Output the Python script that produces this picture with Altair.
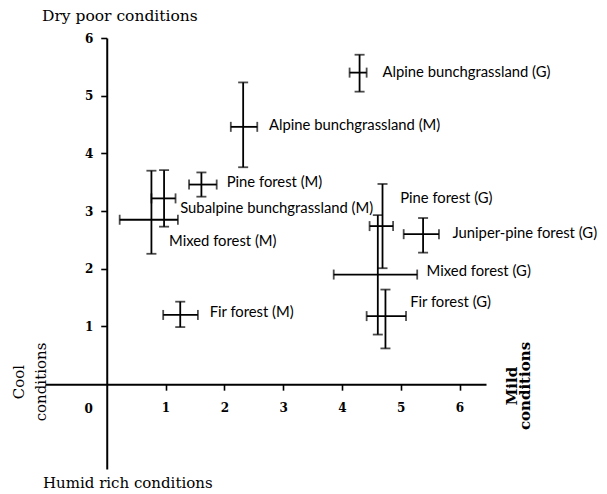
import altair as alt
import pandas as pd

# ---- data ----
names = [
    "Alpine bunchgrassland (G)",
    "Alpine bunchgrassland (M)",
    "Pine forest (M)",
    "Subalpine bunchgrassland (M)",
    "Mixed forest (M)",
    "Fir forest (M)",
    "Pine forest (G)",
    "Juniper-pine forest (G)",
    "Mixed forest (G)",
    "Fir forest (G)",
]
x_mean = [4.30, 2.32, 1.61, 0.975, 0.76, 1.25, 4.69, 5.38, 4.61, 4.74]
y_mean = [5.40, 4.46, 3.46, 3.22, 2.85, 1.20, 2.74, 2.60, 1.90, 1.18]
x_low = [4.13, 2.11, 1.40, 0.76, 0.22, 0.96, 4.47, 5.05, 3.86, 4.42]
x_high = [4.42, 2.56, 1.87, 1.17, 1.21, 1.55, 4.87, 5.65, 5.28, 5.09]
y_low = [5.07, 3.76, 3.25, 2.73, 2.26, 0.99, 2.01, 2.28, 0.86, 0.62]
y_high = [5.71, 5.23, 3.67, 3.71, 3.70, 1.43, 3.47, 2.88, 2.93, 1.64]
label_x = [4.69, 2.76, 2.04, 1.25, 1.06, 1.75, 4.99, 5.88, 5.44, 5.16]
label_y = [5.40, 4.47, 3.48, 3.03, 2.46, 1.24, 3.21, 2.60, 1.95, 1.41]
tick_values = [1, 2, 3, 4, 5, 6]

X_MIN, X_MAX = -1.05, 6.45
Y_MIN, Y_MAX = -1.47, 6.0
W, H = 441, 431

df = pd.DataFrame({
    "name": names, "x": x_mean, "y": y_mean,
    "xlo": x_low, "xhi": x_high, "ylo": y_low, "yhi": y_high,
    "lx": label_x, "ly": label_y,
})

xs = alt.Scale(domain=[X_MIN, X_MAX], nice=False, zero=False)
ys = alt.Scale(domain=[Y_MIN, Y_MAX], nice=False, zero=False)

# axes crossing at the origin (negative offsets pull them into the plot)
x_off = -(0 - Y_MIN) / (Y_MAX - Y_MIN) * H
y_off = -(0 - X_MIN) / (X_MAX - X_MIN) * W

NUM_FONT = "DejaVu Serif"
x_axis = alt.Axis(values=tick_values, offset=x_off, title=None, grid=False,
                  domainColor="black", domainWidth=2, tickColor="black",
                  tickWidth=1.6, tickSize=6, labelFont=NUM_FONT, labelFontSize=12,
                  labelFontWeight="bold", labelColor="black", labelPadding=12)
y_axis = alt.Axis(values=tick_values, offset=y_off, title=None, grid=False,
                  domainColor="black", domainWidth=2, tickColor="black",
                  tickWidth=1.6, tickSize=6, labelFont=NUM_FONT, labelFontSize=12,
                  labelFontWeight="bold", labelColor="black", labelPadding=8)


def X(field):
    return alt.X(field, type="quantitative", scale=xs, axis=x_axis)


def Y(field):
    return alt.Y(field, type="quantitative", scale=ys, axis=y_axis)


base = alt.Chart(df)
LW = 1.8
hbar = base.mark_rule(color="black", strokeWidth=LW).encode(x=X("xlo"), x2="xhi", y=Y("y"))
vbar = base.mark_rule(color="black", strokeWidth=LW).encode(x=X("x"), y=Y("ylo"), y2="yhi")
cap_l = base.mark_tick(color="black", orient="vertical", size=10, thickness=LW).encode(x=X("xlo"), y=Y("y"))
cap_r = base.mark_tick(color="black", orient="vertical", size=10, thickness=LW).encode(x=X("xhi"), y=Y("y"))
cap_b = base.mark_tick(color="black", orient="horizontal", size=10, thickness=LW).encode(x=X("x"), y=Y("ylo"))
cap_t = base.mark_tick(color="black", orient="horizontal", size=10, thickness=LW).encode(x=X("x"), y=Y("yhi"))

LABEL_FONT = "Lato"
labels = base.mark_text(align="left", baseline="middle", font=LABEL_FONT,
                        fontSize=14.8, color="black").encode(x=X("lx"), y=Y("ly"), text="name:N")

one = pd.DataFrame({"k": [0]})

zero = alt.Chart(one).mark_text(text="0", font=NUM_FONT, fontSize=12, fontWeight="bold",
                                color="black", dx=-18, dy=25).encode(
    x=alt.datum(0, scale=xs, axis=x_axis), y=alt.datum(0, scale=ys, axis=y_axis))

TITLE_FONT = "DejaVu Serif"
t_top = alt.Chart(one).mark_text(text="Dry poor conditions", align="left", baseline="middle",
                                 font=TITLE_FONT, fontSize=15.5, color="black").encode(
    x=alt.value(-3), y=alt.value(-22))
t_bot = alt.Chart(one).mark_text(text="Humid rich conditions", align="left", baseline="middle",
                                 font=TITLE_FONT, fontSize=15, color="black").encode(
    x=alt.value(-2), y=alt.value(445))
t_left = alt.Chart(one).mark_text(text=["Cool", "conditions"], align="center", baseline="middle",
                                  angle=270, lineHeight=22, font=TITLE_FONT, fontSize=15,
                                  color="black").encode(x=alt.value(-26), y=alt.value(344))
t_right = alt.Chart(one).mark_text(text=["Mild", "conditions"], align="center", baseline="middle",
                                   angle=270, lineHeight=13, font=TITLE_FONT, fontSize=15,
                                   fontWeight="bold", color="black").encode(
    x=alt.value(467), y=alt.value(348))

chart = alt.layer(hbar, vbar, cap_l, cap_r, cap_b, cap_t, labels, zero,
                  t_top, t_bot, t_left, t_right).properties(
    width=W, height=H,
    autosize=alt.AutoSizeParams(type="none"),
    padding={"left": 37, "top": 30, "right": 113, "bottom": 24},
).configure_view(stroke=None)

chart.save("out.html", embed_options={"renderer": "svg", "actions": False})
